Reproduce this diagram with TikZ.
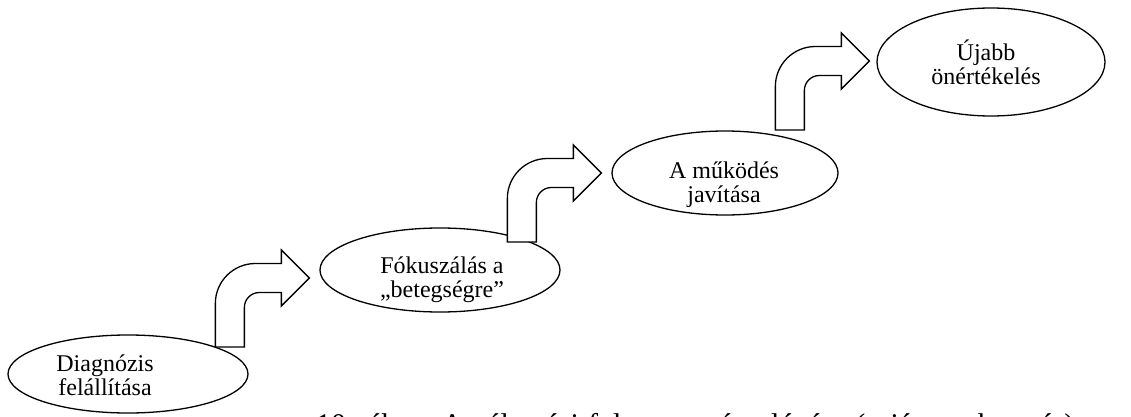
\documentclass[tikz,border=0pt]{standalone}
\usepackage{fontspec}
\setmainfont{Liberation Serif}
\usetikzlibrary{shapes.geometric,calc}

% bent block arrow, drawn back from its tip
\newcommand{\bentarrow}[1]{%
  \draw[barrow, shift={(#1)}] (-94,69) -- (-94,25.5)
    arc[start angle=180, end angle=270, radius=40] -- (-28,-14.5) -- (-28,-28)
    -- (0,0) -- (-28,28) -- (-28,14.5) -- (-50,14.5)
    arc[start angle=270, end angle=180, radius=15] -- (-65,69) -- cycle;}

\begin{document}
\begin{tikzpicture}[x=1pt, y=-1pt,
  stage/.style={draw, ellipse, line width=1.3pt, inner sep=0pt},
  txt/.style={align=center, inner sep=0pt, font=\fontsize{24}{24}\selectfont},
  barrow/.style={draw, fill=white, line width=1.3pt, line join=miter}]
  \useasboundingbox (0,0) rectangle (1131,417);
  \clip (0,0) rectangle (1131,417);

  \node[stage, minimum width=240pt, minimum height=78pt] (diag) at (128,374) {};
  \node[stage, minimum width=240pt, minimum height=84pt] (fok) at (440,270) {};
  \node[stage, minimum width=226pt, minimum height=84pt] (mukod) at (725,173) {};
  \node[stage, minimum width=228pt, minimum height=108pt] (ujabb) at (991,62) {};

  \node[txt] (diagt) at ($(diag)+(-23,1)$) {Diagnózis\\felállítása};
  \node[txt] (fokt) at ($(fok)+(2,10)$) {Fókuszálás a\\„betegségre”};
  \node[txt] (mukodt) at ($(mukod)+(-1,12)$) {A működés\\javítása};
  \node[txt] (ujabbt) at ($(ujabb)+(-5,0)$) {Újabb\\önértékelés};

  \coordinate (tip1) at ($(fok.west)+(-10,8)$);
  \coordinate (tip2) at ($(mukod.west)+(-10,0)$);
  \coordinate (tip3) at ($(ujabb.west)+(-7,-1)$);
  \bentarrow{tip1}
  \bentarrow{tip2}
  \bentarrow{tip3}

  \node[anchor=base west, inner sep=0pt, font=\fontsize{30}{36}\selectfont] (cap) at (316,434)
    {\makebox[758pt][s]{10. ábra: A változási folyamat négy lépése (saját szerkesztés)}};
\end{tikzpicture}
\end{document}
